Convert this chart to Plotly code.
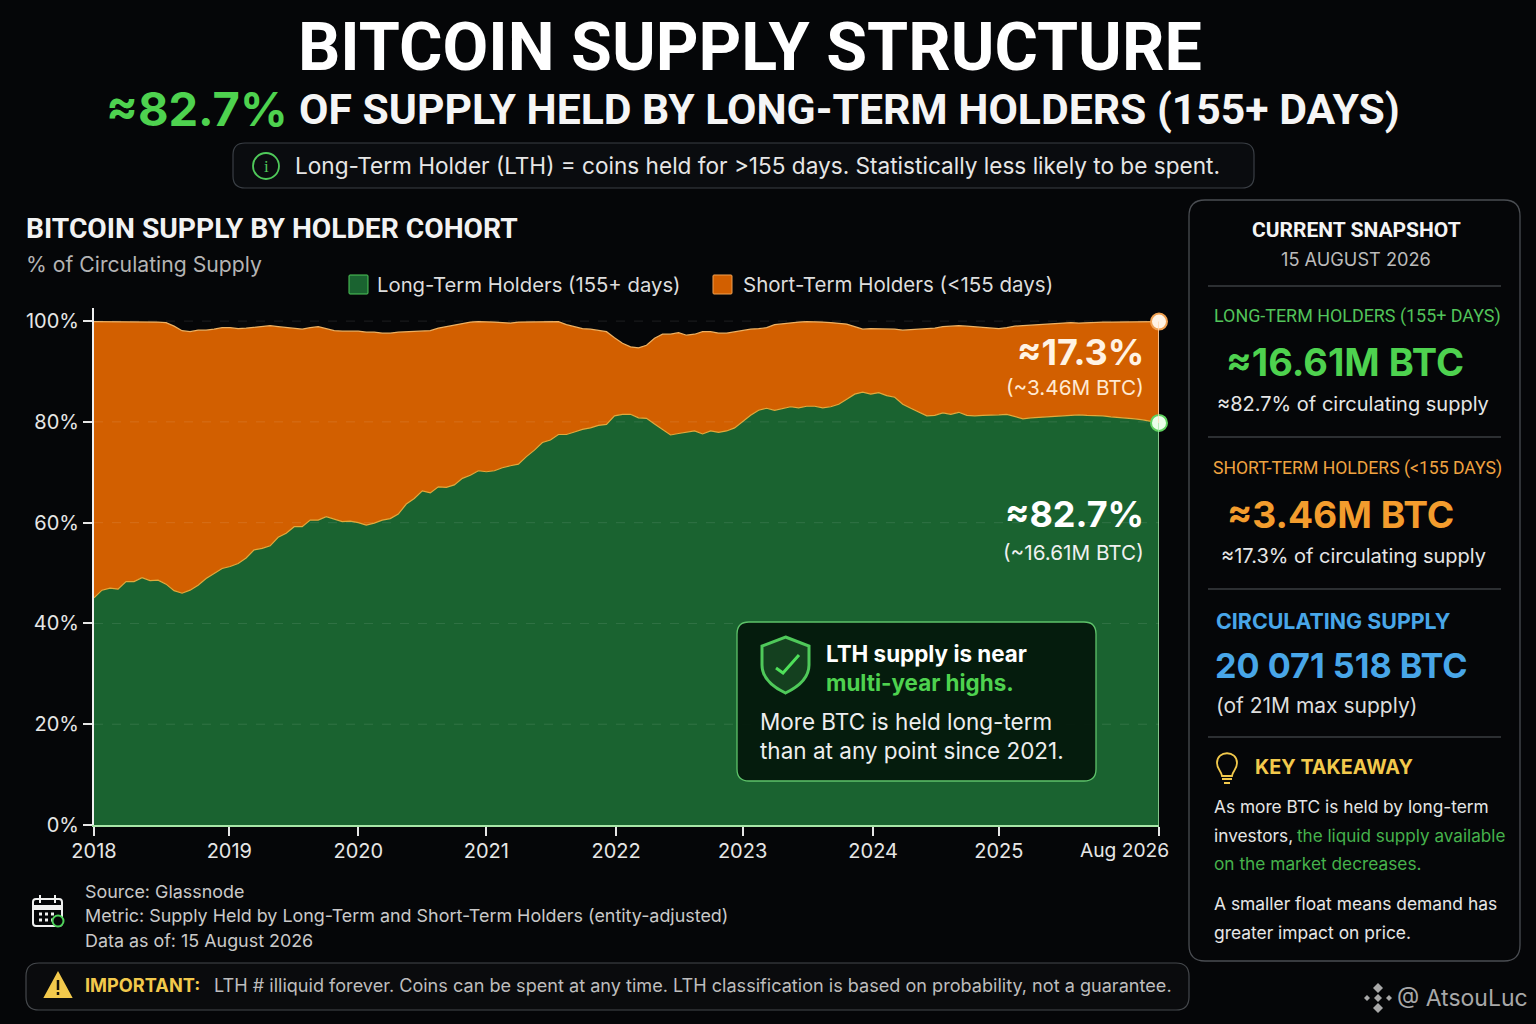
import plotly.graph_objects as go

# Chart data (one sample every few weeks, % of supply)
lth_share = [
    45.1, 46.6, 47.0, 46.8, 48.3, 48.3, 49.1, 48.5, 48.6, 47.8, 46.5, 46.0, 46.6, 47.6, 48.9, 49.9, 50.9,
    51.3, 51.9, 53.0, 54.6, 54.9, 55.4, 57.1, 57.9, 59.2, 59.2, 60.5, 60.5, 61.2, 60.7, 60.2, 60.3,
    60.0, 59.5, 59.9, 60.5, 60.8, 61.7, 63.7, 64.8, 66.3, 65.9, 67.1, 67.0, 67.5, 68.8, 69.4, 70.3,
    70.1, 70.3, 70.9, 71.3, 71.6, 73.1, 74.4, 75.9, 76.4, 77.5, 77.5, 78.0, 78.5, 78.8, 79.3, 79.5,
    81.2, 81.5, 81.5, 80.8, 80.7, 79.6, 78.5, 77.4, 77.7, 77.9, 78.2, 77.6, 78.2, 77.9, 78.2, 78.8,
    80.0, 81.3, 82.3, 82.7, 82.3, 82.7, 83.0, 82.8, 83.1, 83.1, 82.8, 83.0, 83.5, 84.5, 85.5, 85.9,
    85.5, 85.8, 85.2, 84.9, 83.5, 82.7, 82.0, 81.2, 81.3, 81.8, 81.5, 81.9, 81.3, 81.2, 81.3, 81.3,
    81.4, 81.5, 81.0, 80.6, 80.8, 80.9, 81.0, 81.2, 81.3, 81.3, 81.4, 81.3, 81.3, 81.2, 81.0, 80.9,
    80.8, 80.6, 80.4, 80.1, 79.8,
]
# top edge of the short-term band (it dips under 100 in the source picture)
sth_top = [
    99.9, 99.9, 99.9, 99.9, 99.9, 99.9, 99.9, 99.9, 99.8, 99.7, 99.0, 98.1, 97.9, 98.2, 98.2, 98.4, 98.7,
    98.7, 98.5, 98.6, 98.8, 99.0, 99.1, 98.9, 98.7, 98.5, 98.4, 98.7, 98.9, 98.5, 98.1, 98.0, 98.0,
    98.0, 97.8, 97.8, 97.6, 97.6, 97.8, 97.9, 98.0, 98.1, 98.1, 98.6, 98.9, 99.1, 99.5, 99.8, 99.9,
    99.9, 99.8, 99.7, 99.6, 99.8, 99.8, 99.9, 99.9, 99.9, 99.9, 99.3, 98.9, 98.5, 98.4, 98.2, 97.9,
    96.7, 95.6, 94.9, 94.7, 95.2, 96.6, 97.4, 97.4, 97.7, 97.2, 97.4, 97.9, 97.9, 97.6, 97.6, 97.9,
    98.2, 98.4, 98.5, 98.7, 99.3, 99.5, 99.7, 99.8, 99.9, 99.9, 99.8, 99.7, 99.5, 99.4, 98.9, 98.4,
    98.5, 98.5, 98.4, 98.4, 98.2, 98.3, 98.4, 98.6, 98.6, 98.9, 99.0, 99.1, 99.0, 98.9, 98.7, 98.7,
    98.5, 98.7, 99.0, 99.1, 99.2, 99.3, 99.4, 99.4, 99.5, 99.7, 99.6, 99.7, 99.8, 99.8, 99.8, 99.8,
    99.9, 99.9, 99.9, 99.9, 99.9,
]
samples = list(range(len(lth_share)))

# sample number where each year starts, the last one is the end of the data
x_tick_vals = [0, 16.9, 33, 49, 65.2, 81, 97.3, 113, 133]
x_tick_text = ["2018", "2019", "2020", "2021", "2022", "2023", "2024", "2025", ""]
y_tick_vals = [0, 20, 40, 60, 80, 100]
y_tick_text = ["0%", "20%", "40%", "60%", "80%", "100%"]

BG = "#050608"
GREEN = "#4ed24f"
ORANGE = "#f39c2d"
BLUE = "#48a6e8"
YELLOW = "#f2c94c"
FONT = "Inter"
TALL = "Roboto"

W, H = 1536, 1024


def px(x):
    return x / W


def py(y):
    return 1 - y / H


def pth(*parts):
    # path in picture pixels -> path in paper coordinates
    out = []
    for p in parts:
        if isinstance(p, str):
            out.append(p)
        else:
            out.append(f"{px(p[0]):.5f},{py(p[1]):.5f}")
    return " ".join(out)


def round_rect(x0, y0, x1, y1, r):
    return pth("M", (x0 + r, y0), "L", (x1 - r, y0), "Q", (x1, y0), (x1, y0 + r),
               "L", (x1, y1 - r), "Q", (x1, y1), (x1 - r, y1),
               "L", (x0 + r, y1), "Q", (x0, y1), (x0, y1 - r),
               "L", (x0, y0 + r), "Q", (x0, y0), (x0 + r, y0), "Z")


shapes = []
annotations = []


def add_path(path, fill="rgba(0,0,0,0)", line="rgba(0,0,0,0)", width=1):
    shapes.append(dict(type="path", xref="paper", yref="paper", path=path,
                       fillcolor=fill, line=dict(color=line, width=width), layer="above"))


def add_seg(x0, y0, x1, y1, color, width=1):
    shapes.append(dict(type="line", xref="paper", yref="paper", x0=px(x0), y0=py(y0), x1=px(x1), y1=py(y1),
                       line=dict(color=color, width=width), layer="above"))


def add_circle(cx, cy, r, line, width=2, fill="rgba(0,0,0,0)"):
    shapes.append(dict(type="circle", xref="paper", yref="paper", x0=px(cx - r), y0=py(cy + r),
                       x1=px(cx + r), y1=py(cy - r), fillcolor=fill,
                       line=dict(color=line, width=width), layer="above"))


def add_diamond(cx, cy, r, color):
    add_path(pth("M", (cx, cy - r), "L", (cx + r, cy), "L", (cx, cy + r), "L", (cx - r, cy), "Z"), fill=color)


def txt(x, y, s, size, color="#e6e6e6", anchor="left", bold=False, family=FONT):
    # annotations sit a touch inside their anchor
    if anchor == "left":
        x -= 1
    elif anchor == "right":
        x += 2
    annotations.append(dict(xref="paper", yref="paper", x=px(x), y=py(y), text=s, showarrow=False,
                            xanchor=anchor, yanchor="middle", borderpad=0,
                            font=dict(family=family, size=size, color=color, weight=700 if bold else 400)))


fig = go.Figure()

# Stacked bands
fig.add_trace(go.Scatter(x=samples, y=lth_share, mode="lines", name="Long-Term Holders (155+ days)",
                         line=dict(color="#e0a93c", width=1.2), fill="tozeroy", fillcolor="#1a6330"))
fig.add_trace(go.Scatter(x=samples, y=sth_top, mode="lines", name="Short-Term Holders (<155 days)",
                         line=dict(color="#eeb060", width=1.2), fill="tonexty", fillcolor="#d25f00"))

# Right edge of the bands and the end dots
shapes.append(dict(type="line", xref="x", yref="y", x0=samples[-1], x1=samples[-1], y0=0, y1=lth_share[-1],
                   line=dict(color="#a8e6a8", width=1.5), layer="above"))
shapes.append(dict(type="line", xref="x", yref="y", x0=samples[-1], x1=samples[-1], y0=lth_share[-1], y1=sth_top[-1],
                   line=dict(color="#ffd9b0", width=1.5), layer="above"))
fig.add_trace(go.Scatter(x=[samples[-1]], y=[sth_top[-1]], mode="markers", cliponaxis=False,
                         marker=dict(size=16, color="#fff3e4", line=dict(color="#f0a050", width=2))))
fig.add_trace(go.Scatter(x=[samples[-1]], y=[lth_share[-1]], mode="markers", cliponaxis=False,
                         marker=dict(size=16, color="#eaffea", line=dict(color="#5fd25f", width=2))))

# Faint dashed grid drawn over the fills
for v in y_tick_vals[1:]:
    shapes.append(dict(type="line", xref="paper", yref="y", x0=px(94), x1=px(1159), y0=v, y1=v,
                       line=dict(color="rgba(255,255,255,0.10)", width=1, dash="dash"), layer="above"))

# Header
txt(750, 47, "BITCOIN SUPPLY STRUCTURE", 66.4, "#ffffff", "center", True, TALL)
txt(106, 108, "≈82.7%", 47, GREEN, "left", True)
txt(299, 109, "OF SUPPLY HELD BY LONG-TERM HOLDERS (155+ DAYS)", 42.7, "#f5f5f5", "left", True, TALL)
add_path(round_rect(233, 143, 1254, 188, 12), fill="#0a0c0f", line="#3a3f45", width=1.2)
add_circle(266, 166, 13, "#4fc95a", 1.8)
txt(266, 166, "i", 17, "#4fc95a", "center", family="Liberation Serif")
txt(295, 165, "Long-Term Holder (LTH) = coins held for &gt;155 days. Statistically less likely to be spent.", 22.6)

# Chart heading and legend
txt(26, 228, "BITCOIN SUPPLY BY HOLDER COHORT", 28.2, "#f2f2f2", "left", True, TALL)
txt(26, 264, "% of Circulating Supply", 21.2, "#b4b4b4")
add_path(round_rect(349, 275, 368, 294, 1), fill="#1a6330", line="#4fc95a", width=1)
txt(377, 284, "Long-Term Holders (155+ days)", 20.3, "#dddddd")
add_path(round_rect(713, 275, 732, 294, 1), fill="#d25f00", line="#f0a050", width=1)
txt(743, 284, "Short-Term Holders (&lt;155 days)", 20.5, "#dddddd")
txt(1168, 850, "Aug 2026", 19.2, "#e6e6e6", "right")

# Labels on the bands
txt(1143, 352, "≈17.3%", 36, "#fff3e4", "right", True)
txt(1143, 387, "(~3.46M BTC)", 20.7, "#ffe9d2", "right")
txt(1143, 514, "≈82.7%", 36, "#ffffff", "right", True)
txt(1143, 552, "(~16.61M BTC)", 20.7, "#f0f0f0", "right")

# Callout
add_path(round_rect(737, 622, 1096, 781, 12), fill="rgba(4,24,12,0.95)", line="#5ec26a", width=1.3)
add_path(pth("M", (785.5, 637), "L", (809, 646), "L", (809, 665), "C", (809, 678), (798, 687), (785.5, 693),
             "C", (773, 687), (762, 678), (762, 665), "L", (762, 646), "Z"),
         fill="#14401f", line="#4fc95a", width=3)
add_path(pth("M", (776, 668), "L", (783, 673), "L", (799, 655)), line="#4fe05a", width=3)
txt(826, 653, "LTH supply is near", 22.4, "#ffffff", "left", True)
txt(826, 682, "multi-year highs.", 22.4, GREEN, "left", True)
txt(760, 721, "More BTC is held long-term", 22.5, "#eeeeee")
txt(760, 750, "than at any point since 2021.", 22.5, "#eeeeee")

# Source block
add_path(round_rect(33, 899, 62, 926, 3), line="#f0f0f0", width=2)
add_path(pth("M", (33, 905), "L", (62, 905), "L", (62, 910), "L", (33, 910), "Z"), fill="#f0f0f0")
add_seg(40, 895, 40, 903, "#f0f0f0", 2)
add_seg(55, 895, 55, 903, "#f0f0f0", 2)
for cx in (39, 45, 51):
    add_seg(cx, 914, cx + 3, 914, "#f0f0f0", 3)
    add_seg(cx, 920, cx + 3, 920, "#f0f0f0", 3)
add_circle(58, 921, 5.5, "#4fd25a", 2, BG)
txt(85, 891, "Source: Glassnode", 17.9, "#c9c9c9")
txt(85, 915, "Metric: Supply Held by Long-Term and Short-Term Holders (entity-adjusted)", 17.9, "#c9c9c9")
txt(85, 940, "Data as of: 15 August 2026", 17.9, "#c9c9c9")

# Warning strip
add_path(round_rect(26, 963, 1189, 1010, 13), fill="#0a0b0d", line="#45484c", width=1.2)
add_path(pth("M", (58, 973), "L", (71, 997), "L", (45, 997), "Z"), fill=YELLOW, line=YELLOW, width=2)
add_seg(58, 980, 58, 990, "#16120a", 2.5)
add_seg(58, 992, 58, 995, "#16120a", 2.5)
txt(85, 985, "IMPORTANT:", 18.2, YELLOW, "left", True)
txt(214, 985, "LTH # illiquid forever. Coins can be spent at any time. LTH classification is based on probability, not a guarantee.",
    18.1, "#bdbdbd")

# Snapshot panel
add_path(round_rect(1189, 200, 1520, 961, 16), fill="#050608", line="#4a4d52", width=1.3)
for y in (286, 437, 589, 737):
    add_seg(1208, y, 1501, y, "#55585c", 1)
txt(1356, 230, "CURRENT SNAPSHOT", 21, "#f5f5f5", "center", True, TALL)
txt(1356, 259, "15 AUGUST 2026", 18.2, "#bbbbbb", "center")

txt(1357, 316, "LONG-TERM HOLDERS (155+ DAYS)", 17.9, "#52c45a", "center", family=TALL)
txt(1345, 362, "≈16.61M BTC", 38, GREEN, "center", True)
txt(1353, 404, "≈82.7% of circulating supply", 20, "#e6e6e6", "center")

txt(1357, 468, "SHORT-TERM HOLDERS (&lt;155 DAYS)", 17.6, "#f0a340", "center", family=TALL)
txt(1340, 514, "≈3.46M BTC", 37.2, ORANGE, "center", True)
txt(1353, 556, "≈17.3% of circulating supply", 20, "#e6e6e6", "center")

txt(1216, 621, "CIRCULATING SUPPLY", 21.4, BLUE, "left", True)
txt(1215, 665, "20 071 518 BTC", 34.2, BLUE, "left", True)
txt(1216, 705, "(of 21M max supply)", 21, "#dddddd")

# Bulb
add_path(pth("M", (1222, 776), "C", (1221, 770), (1217, 769), (1217, 763), "C", (1217, 750), (1237, 750), (1237, 763),
             "C", (1237, 769), (1233, 770), (1232, 776), "Z"), line=YELLOW, width=1.8)
add_seg(1222, 779, 1232, 779, YELLOW, 2)
add_seg(1224, 783, 1230, 783, YELLOW, 2)
txt(1255, 767, "KEY TAKEAWAY", 19.8, YELLOW, "left", True)
txt(1214, 806, "As more BTC is held by long-term", 17.3, "#e6e6e6")
txt(1214, 835, "investors,", 17.3, "#e6e6e6")
txt(1297, 835, "the liquid supply available", 17.1, "#46b34c")
txt(1214, 863, "on the market decreases.", 17.3, "#46b34c")
txt(1214, 903, "A smaller float means demand has", 17.4, "#e6e6e6")
txt(1214, 932, "greater impact on price.", 17.4, "#e6e6e6")

# Watermark
add_diamond(1378, 998, 4, "#a8a8a8")
add_diamond(1378, 988, 5, "#a8a8a8")
add_diamond(1378, 1008, 5, "#a8a8a8")
add_diamond(1367, 998, 3, "#a8a8a8")
add_diamond(1389, 998, 3, "#a8a8a8")
txt(1397, 998, "@ AtsouLuc", 23, "#a8a8a8")

fig.update_layout(
    width=W,
    height=H,
    margin=dict(l=0, r=0, t=0, b=0),
    paper_bgcolor=BG,
    plot_bgcolor=BG,
    showlegend=False,
    shapes=shapes,
    annotations=annotations,
    font=dict(family=FONT, color="#e6e6e6"),
    xaxis=dict(
        domain=[px(94), px(1159)],
        range=[samples[0], samples[-1]],
        tickmode="array",
        tickvals=x_tick_vals,
        ticktext=x_tick_text,
        ticks="outside",
        ticklen=9,
        tickwidth=1.5,
        tickcolor="#e6e6e6",
        ticklabelstandoff=-2,
        tickfont=dict(size=20, color="#e6e6e6"),
        automargin=False,
        showgrid=False,
        zeroline=False,
        showline=True,
        linecolor="#a8e6a8",
        linewidth=1.5,
    ),
    yaxis=dict(
        domain=[py(825), py(308)],
        range=[0, 102.6],
        tickmode="array",
        tickvals=y_tick_vals,
        ticktext=y_tick_text,
        ticks="outside",
        ticklen=9,
        tickwidth=1.5,
        tickcolor="#e6e6e6",
        ticklabelstandoff=0,
        tickfont=dict(size=20, color="#e6e6e6"),
        automargin=False,
        showgrid=False,
        zeroline=False,
        showline=True,
        linecolor="#f0f0f0",
        linewidth=2,
    ),
)

fig.write_html("out.html", config={"displayModeBar": False},
               post_script="document.body.style.margin='0';document.body.style.background='#050608';")
